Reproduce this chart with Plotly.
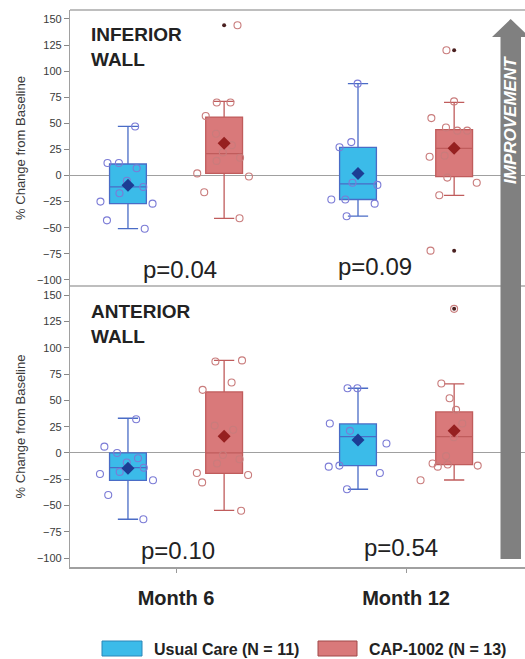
import plotly.graph_objects as go

# ---------------- data ----------------
months = ["Month 6", "Month 12"]
group_names = ["Usual Care (N = 11)", "CAP-1002 (N = 13)"]
panel_titles = ["INFERIOR<br>WALL", "ANTERIOR<br>WALL"]
p_values_inf = ["p=0.04", "p=0.09"]
p_values_ant = ["p=0.10", "p=0.54"]
y_ticks = [-100, -75, -50, -25, 0, 25, 50, 75, 100, 125, 150]

# box statistics (Month 6, Month 12)
inf_uc_q1, inf_uc_med, inf_uc_q3 = [-27, -23], [-11, -8], [11, 27]
inf_uc_lo, inf_uc_hi, inf_uc_mean = [-51, -39], [47, 88], [-9.4, 2]
inf_cap_q1, inf_cap_med, inf_cap_q3 = [2, -1], [21, 26], [56, 44]
inf_cap_lo, inf_cap_hi, inf_cap_mean = [-41, -19], [71, 70], [31, 26]

ant_uc_q1, ant_uc_med, ant_uc_q3 = [-26, -12], [-14, 15.5], [0, 27.6]
ant_uc_lo, ant_uc_hi, ant_uc_mean = [-63, -34.5], [33, 61.5], [-14.6, 12.4]
ant_cap_q1, ant_cap_med, ant_cap_q3 = [-19.5, -11], [0, 15.5], [58, 39]
ant_cap_lo, ant_cap_hi, ant_cap_mean = [-54.5, -25.7], [88, 65.6], [16, 21]

# individual patients
inf_uc_m6 = [47, 12, -11, -25, -51, 7, 12, -17, -5, -27, -43]
inf_uc_m12 = [88, 27, 32, -7, -9, -23, -27, -23, -39]
inf_cap_m6 = [144, 70, 70, 57, 40, 29, 22, 17, 14, 2, -1, -16, -41]
inf_cap_m12 = [120, 71, 55, 46, 43, 43, 25, 19, 18, -2, -7, -19, -72]
ant_uc_m6 = [6, -18, -26, -5, -40, 0, -9, 32, -14, -20, -63]
ant_uc_m12 = [61.5, 61.5, 28, 21, 9, -12, -13, -19, -34.5]
ant_cap_m6 = [88, 87, 67, 60, 26, 22, -2, -28, -21, -10, -6, -19, -55]
ant_cap_m12 = [137, 66, 52, 41, 28, 15, -3, -13, -12, -11, -10, -26]

# outliers (dark dots)
inf_out_x = ["Month 6", "Month 12", "Month 12"]
inf_out_y = [144, 120, -72]
ant_out_x = ["Month 12"]
ant_out_y = [137]

# ---------------- styling ----------------
W, H = 525, 659
ML, MR, MT, MB = 70, 0, 10, 92
PW, PH = W - ML - MR, H - MT - MB
FONT = "Liberation Sans, Arial, sans-serif"

BLUE_FILL, BLUE_LINE, BLUE_PT, BLUE_MEAN = "#3bbbe9", "#4a6cc6", "#7b7bd6", "#1c3d94"
RED_FILL, RED_LINE, RED_PT, RED_MEAN = "#d9797a", "#c05c5c", "#c97c7c", "#962020"

BOXGAP, BOXGROUPGAP = 0.164, 0.617
PTS_WIDTH = 0.3
# group centre offset expressed in units of the point-cloud half-width
GROUP_SHIFT = 0.25 * (1 - BOXGAP) / (PTS_WIDTH / 2)


def px_x(x):
    return (x - ML) / PW


def px_y(y):
    return (MT + PH - y) / PH


split = px_y(286)

fig = go.Figure()


def add_panel(yref, uc_stats, cap_stats, uc_pts, cap_pts, out_x, out_y):
    for (q1, med, q3, lo, hi, mean), fill, line, grp, name in [
        (uc_stats, BLUE_FILL, BLUE_LINE, "uc", group_names[0]),
        (cap_stats, RED_FILL, RED_LINE, "cap", group_names[1]),
    ]:
        fig.add_trace(go.Box(
            x=months, q1=q1, median=med, q3=q3, lowerfence=lo, upperfence=hi,
            fillcolor=fill, line=dict(color=line, width=1.3), whiskerwidth=0.55,
            offsetgroup=grp, name=name, showlegend=False, boxpoints=False,
            yaxis=yref, xaxis="x"))
    for (m6, m12), col, grp, sgn in [(uc_pts, BLUE_PT, "uc", -1), (cap_pts, RED_PT, "cap", 1)]:
        fig.add_trace(go.Box(
            x=[months[0]] * len(m6) + [months[1]] * len(m12), y=m6 + m12,
            boxpoints="all", jitter=1, pointpos=sgn * GROUP_SHIFT, width=PTS_WIDTH,
            fillcolor="rgba(0,0,0,0)", line=dict(width=0, color="rgba(0,0,0,0)"),
            whiskerwidth=0,
            marker=dict(symbol="circle-open", size=7, color=col, line=dict(width=1.1, color=col)),
            offsetgroup=grp, showlegend=False, yaxis=yref, xaxis="x"))
    for mean, col, grp in [(uc_stats[5], BLUE_MEAN, "uc"), (cap_stats[5], RED_MEAN, "cap")]:
        fig.add_trace(go.Scatter(
            x=months, y=mean, mode="markers", offsetgroup=grp,
            marker=dict(symbol="diamond", size=10, color=col), showlegend=False,
            yaxis=yref, xaxis="x"))
    fig.add_trace(go.Scatter(
        x=out_x, y=out_y, mode="markers", offsetgroup="cap",
        marker=dict(symbol="circle", size=4, color="#4a2020"), showlegend=False,
        yaxis=yref, xaxis="x"))


add_panel("y",
          (inf_uc_q1, inf_uc_med, inf_uc_q3, inf_uc_lo, inf_uc_hi, inf_uc_mean),
          (inf_cap_q1, inf_cap_med, inf_cap_q3, inf_cap_lo, inf_cap_hi, inf_cap_mean),
          (inf_uc_m6, inf_uc_m12), (inf_cap_m6, inf_cap_m12), inf_out_x, inf_out_y)
add_panel("y2",
          (ant_uc_q1, ant_uc_med, ant_uc_q3, ant_uc_lo, ant_uc_hi, ant_uc_mean),
          (ant_cap_q1, ant_cap_med, ant_cap_q3, ant_cap_lo, ant_cap_hi, ant_cap_mean),
          (ant_uc_m6, ant_uc_m12), (ant_cap_m6, ant_cap_m12), ant_out_x, ant_out_y)

yax_common = dict(
    tickvals=y_ticks, ticks="outside", ticklen=5, tickcolor="#888",
    tickfont=dict(size=11, color="#3a3a3a", family=FONT),
    showgrid=False, zeroline=True, zerolinecolor="#a0a0a0", zerolinewidth=1,
    showline=True, linecolor="#a0a0a0", linewidth=1.2,
    title=dict(text="% Change from Baseline", font=dict(size=13, color="#3a3a3a", family=FONT), standoff=8),
)

shapes = [
    dict(type="line", xref="paper", yref="paper", x0=0, x1=1, y0=1, y1=1,
         line=dict(color="#a8a8a8", width=1.5)),
    dict(type="line", xref="paper", yref="paper", x0=0, x1=1, y0=split, y1=split,
         line=dict(color="#a8a8a8", width=1.5)),
]
# improvement arrow
ax_l, ax_r, hx_l, hx_r, tip_x = 500.5, 521, 492, 529.5, 510.7
shaft_bot, head_base, tip_y = 559, 37, 19
path = "M {} {} L {} {} L {} {} L {} {} L {} {} L {} {} L {} {} Z".format(
    px_x(ax_l), px_y(shaft_bot), px_x(ax_l), px_y(head_base), px_x(hx_l), px_y(head_base),
    px_x(tip_x), px_y(tip_y), px_x(hx_r), px_y(head_base), px_x(ax_r), px_y(head_base),
    px_x(ax_r), px_y(shaft_bot))
shapes.append(dict(type="path", xref="paper", yref="paper", path=path,
                   fillcolor="#808080", line=dict(width=0), layer="above"))
# legend swatches
for x0, x1, fill, line in [(102, 142, BLUE_FILL, "#2a86b8"), (318, 357, RED_FILL, "#a04848")]:
    shapes.append(dict(type="rect", xref="paper", yref="paper",
                       x0=px_x(x0), x1=px_x(x1), y0=px_y(656), y1=px_y(641),
                       fillcolor=fill, line=dict(color=line, width=1)))

annotations = [
    dict(text="<i><b>IMPROVEMENT</b></i>", x=px_x(511), y=px_y(120), xref="paper", yref="paper",
         xanchor="center", yanchor="middle",
         showarrow=False, textangle=-90, font=dict(size=17, color="#ffffff", family=FONT)),
    dict(text="<b>" + panel_titles[0] + "</b>", x=px_x(89), y=px_y(47.5), xref="paper", yref="paper",
         xanchor="left", yanchor="middle", align="left", showarrow=False,
         font=dict(size=19, color="#222", family=FONT)),
    dict(text="<b>" + panel_titles[1] + "</b>", x=px_x(89), y=px_y(324), xref="paper", yref="paper",
         xanchor="left", yanchor="middle", align="left", showarrow=False,
         font=dict(size=19, color="#222", family=FONT)),
    dict(text=group_names[0], x=px_x(152), y=px_y(649), xref="paper", yref="paper",
         xanchor="left", yanchor="middle", showarrow=False,
         font=dict(size=16, color="#222", family=FONT, weight="bold")),
    dict(text=group_names[1], x=px_x(367), y=px_y(649), xref="paper", yref="paper",
         xanchor="left", yanchor="middle", showarrow=False,
         font=dict(size=16, color="#222", family=FONT, weight="bold")),
]
for txt, cx, cy in [(p_values_inf[0], 180, 269), (p_values_inf[1], 375, 266),
                    (p_values_ant[0], 178, 550), (p_values_ant[1], 401, 547)]:
    annotations.append(dict(text=txt, x=px_x(cx), y=px_y(cy), xref="paper", yref="paper",
                            showarrow=False, xanchor="center", yanchor="middle",
                            font=dict(size=24, color="#222", family=FONT)))

fig.update_layout(
    width=W, height=H, margin=dict(l=ML, r=MR, t=MT, b=MB),
    paper_bgcolor="white", plot_bgcolor="white",
    boxmode="group", boxgap=BOXGAP, boxgroupgap=BOXGROUPGAP,
    scattermode="group", scattergap=BOXGAP,
    showlegend=False,
    font=dict(family=FONT),
    xaxis=dict(type="category", categoryorder="array", categoryarray=months,
               range=[-0.461, 1.517], anchor="y2", showgrid=False, zeroline=False,
               showline=True, linecolor="#a0a0a0", linewidth=1.5,
               ticks="outside", ticklen=4, tickcolor="#999", ticklabelstandoff=8,
               tickfont=dict(size=20, color="#222", family=FONT, weight="bold")),
    yaxis=dict(domain=[split, 1], range=[-105.9, 158.6], **yax_common),
    yaxis2=dict(domain=[0, split], range=[-108.4, 158.7], **yax_common),
    shapes=shapes, annotations=annotations,
)

fig.write_html("out.html")
